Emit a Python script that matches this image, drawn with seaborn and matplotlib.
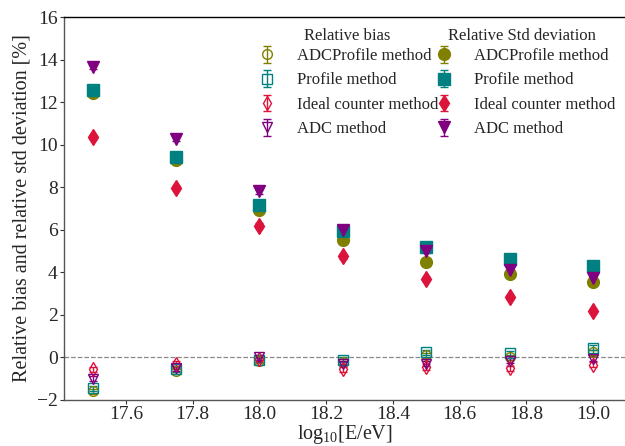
import matplotlib
matplotlib.use("Agg")
import matplotlib.pyplot as plt
from matplotlib.lines import Line2D
import seaborn as sns
import numpy as np

energy = [17.5, 17.75, 18.0, 18.25, 18.5, 18.75, 19.0]

methods = ["ADCProfile method", "Profile method", "Ideal counter method", "ADC method"]
headers = ["Relative bias", "Relative Std deviation"]
colors = ["#808000", "#008080", "#DC143C", "#800080"]
markers = ["o", "s", "d", "v"]

bias_adcprofile = [-1.6, -0.65, -0.15, -0.2, 0.1, 0.0, 0.25]
bias_profile = [-1.45, -0.55, -0.1, -0.1, 0.25, 0.2, 0.45]
bias_ideal = [-0.55, -0.3, -0.05, -0.55, -0.45, -0.5, -0.35]
bias_adc = [-1.0, -0.5, 0.0, -0.3, -0.3, -0.15, -0.05]

std_adcprofile = [12.45, 9.3, 6.95, 5.5, 4.5, 3.9, 3.55]
std_profile = [12.55, 9.4, 7.15, 5.95, 5.2, 4.65, 4.3]
std_ideal = [10.35, 7.95, 6.2, 4.75, 3.7, 2.85, 2.2]
std_adc = [13.65, 10.25, 7.8, 6.0, 5.0, 4.1, 3.75]

bias_err = [0.12] * 7
std_err = [0.1] * 7

xlabel = r"log$_{10}$[E/eV]"
ylabel = "Relative bias and relative std deviation [%]"
xticks = [17.6, 17.8, 18.0, 18.2, 18.4, 18.6, 18.8, 19.0]
yticks = [-2, 0, 2, 4, 6, 8, 10, 12, 14, 16]

sns.set_theme(style="ticks")
plt.rcParams["font.family"] = ["Liberation Serif", "DejaVu Serif"]
plt.rcParams["mathtext.fontset"] = "custom"
plt.rcParams["mathtext.rm"] = "Liberation Serif"
plt.rcParams["mathtext.it"] = "Liberation Serif:italic"

W, H = 625, 446
fig = plt.figure(figsize=(W / 100, H / 100), dpi=100)
ax = fig.add_axes([64 / W, 1 - 400 / H, (W - 64) / W, (400 - 17) / H])

ax.axhline(0, color="#888888", ls="--", lw=0.9, zorder=1)

bias_all = [bias_adcprofile, bias_profile, bias_ideal, bias_adc]
std_all = [std_adcprofile, std_profile, std_ideal, std_adc]

bias_handles = []
std_handles = []
for vals, c, m, lab in zip(bias_all, colors, markers, methods):
    h = ax.errorbar(energy, vals, yerr=bias_err, fmt=m, color=c, mfc="none",
                    mec=c, ms=7, mew=1.0, capsize=3, elinewidth=1, label=lab, zorder=3)
    bias_handles.append(h)
for vals, c, m, lab in zip(std_all, colors, markers, methods):
    h = ax.errorbar(energy, vals, yerr=std_err, fmt=m, color=c, mfc=c,
                    mec=c, ms=8.5, capsize=3, elinewidth=1, label=lab, zorder=4)
    std_handles.append(h)

blank = Line2D([], [], linestyle="none", marker=None)
handles = [blank] + bias_handles + [blank] + std_handles
labels = [headers[0]] + methods + [headers[1]] + methods
leg = ax.legend(handles, labels, ncol=2, loc="upper right",
                bbox_to_anchor=(1.0 + 9 / 561, 1.0 + 5 / 383),
                frameon=False, fontsize=12, handlelength=1.6, handletextpad=1.0,
                columnspacing=-0.45, labelspacing=0.5, borderaxespad=0.3)
texts = leg.get_texts()
texts[0].set_alpha(0)
texts[5].set_alpha(0)
fig.text(304 / W, 1 - 36 / H, headers[0], fontsize=12, ha="left", va="center")
fig.text(448 / W, 1 - 36 / H, headers[1], fontsize=12, ha="left", va="center")

ax.set_xlim(17.414, 19.096)
ax.set_ylim(-2, 16)
ax.set_xticks(xticks)
ax.set_xticklabels([f"{t:.1f}" for t in xticks])
ax.set_yticks(yticks)
ax.set_yticklabels([f"{t:d}".replace("-", "\u2212") for t in yticks])
ax.set_xlabel(xlabel, fontsize=14.5, labelpad=0)
ax.set_ylabel(ylabel, fontsize=14.5, labelpad=4)
ax.tick_params(axis="both", labelsize=14, direction="out", length=3, width=0.8,
               color="#333333", pad=1.5)

for s in ["left", "bottom"]:
    ax.spines[s].set_color("#555555")
    ax.spines[s].set_linewidth(1.0)
ax.spines["top"].set_color("black")
ax.spines["top"].set_linewidth(1.0)
ax.spines["right"].set_visible(False)

fig.savefig("out.png", dpi=100)
